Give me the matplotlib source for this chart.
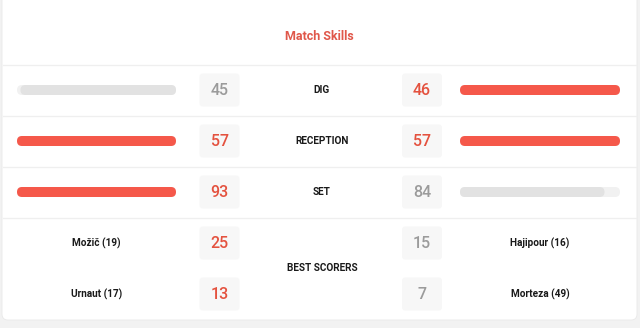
import matplotlib
matplotlib.use("Agg")
import matplotlib.pyplot as plt
from matplotlib.patches import FancyBboxPatch

# ---- data ----
title = "Match Skills"
skills = ["DIG", "RECEPTION", "SET"]
home_vals = [45, 57, 93]
away_vals = [46, 57, 84]
scorer_label = "BEST SCORERS"
home_scorers = ["Možič (19)", "Urnaut (17)"]
home_points = [25, 13]
away_scorers = ["Hajipour (16)", "Morteza (49)"]
away_points = [15, 7]

# ---- style ----
RED = "#f5584a"
RED_TXT = "#e4523f"
GRAY_TXT = "#9b9b9b"
GRAY_BAR = "#e2e2e2"
TRACK = "#f1f1f1"
BOX = "#f7f7f7"
LINE = "#efefef"
BG = "#f2f2f2"
FONT = ["Roboto", "DejaVu Sans"]

W, H = 640, 328
fig = plt.figure(figsize=(W / 100, H / 100), dpi=100, facecolor=BG)
ax = fig.add_axes([0, 0, 1, 1])
ax.set_xlim(0, W)
ax.set_ylim(H, 0)
ax.axis("off")

# card
card = FancyBboxPatch((2, -20), 635, 340, boxstyle="round,pad=0,rounding_size=6",
                      facecolor="white", edgecolor="#e9e9e9", linewidth=0.6)
ax.add_patch(card)

ax.text(319, 36, title, ha="center", va="center", color="#e0574a",
        fontsize=9.0, fontweight="bold", family=FONT)

# separators
for y in [65, 116, 167, 218]:
    ax.plot([3, 636], [y, y], color=LINE, lw=0.9)

L0, L1 = 17, 176
R0, R1 = 460, 620
BH = 10
LBOX, RBOX = 219.5, 422
BOXW, BOXH = 40, 33


def bar(x0, x1, y, color):
    if x1 - x0 <= 0:
        return
    r = min(BH / 2, (x1 - x0) / 2)
    ax.add_patch(FancyBboxPatch((x0, y - BH / 2), x1 - x0, BH,
                                boxstyle=f"round,pad=0,rounding_size={r}",
                                facecolor=color, edgecolor="none"))


def numbox(xc, y, val, win):
    ax.add_patch(FancyBboxPatch((xc - BOXW / 2, y - BOXH / 2), BOXW, BOXH,
                                boxstyle="round,pad=0,rounding_size=3",
                                facecolor=BOX, edgecolor="none"))
    ax.text(xc, y + 0.5, str(val), ha="center", va="center",
            color=RED_TXT if win else GRAY_TXT, fontsize=11.5,
            fontweight="medium", family=FONT)


LBL = dict(ha="center", va="center", color="#1a1a1a", fontsize=7.2,
           fontweight="bold", family=FONT)

row_y = [90, 141, 192]
for s, h, a, y in zip(skills, home_vals, away_vals, row_y):
    m = max(h, a)
    hw = h >= a
    aw = a >= h
    # left: track then fill anchored at inner side
    bar(L0, L1, y, TRACK)
    bar(L1 - (L1 - L0) * h / m, L1, y, RED if hw else GRAY_BAR)
    bar(R0, R1, y, TRACK)
    bar(R0, R0 + (R1 - R0) * a / m, y, RED if aw else GRAY_BAR)
    numbox(LBOX, y, h, hw)
    numbox(RBOX, y, a, aw)
    ax.text(322, y, s, **LBL)

sc_y = [243, 294]
for hn, hp, an, ap, y in zip(home_scorers, home_points, away_scorers, away_points, sc_y):
    numbox(LBOX, y, hp, hp >= ap)
    numbox(RBOX, y, ap, ap >= hp)
    ax.text((L0 + L1) / 2, y, hn, **LBL)
    ax.text((R0 + R1) / 2, y, an, **LBL)

ax.text(322, 268, scorer_label, **LBL)

fig.savefig("out.png", dpi=100, facecolor=BG)
